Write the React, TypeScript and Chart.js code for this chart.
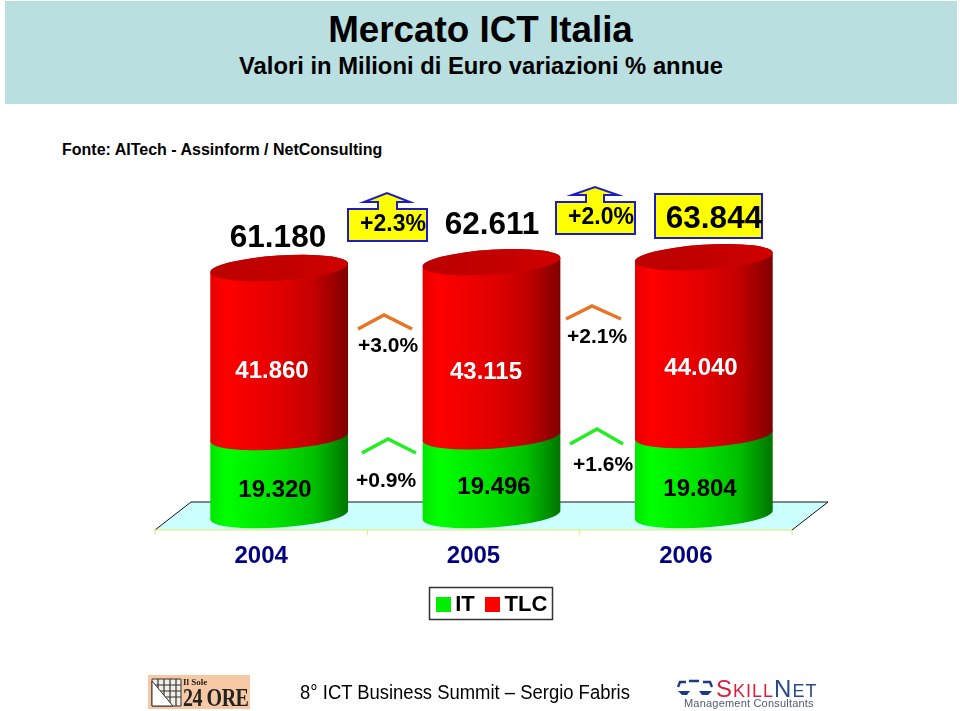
import React, { useEffect, useRef } from "react";
import { Chart, registerables } from "chart.js";

Chart.register(...registerables);

// ---- data ----
const years = ["2004", "2005", "2006"];
const itValues = [19320, 19496, 19804];
const tlcValues = [41860, 43115, 44040];
const totalValues = [61180, 62611, 63844];
const totalGrowth = [2.3, 2.0];
const tlcGrowth = [3.0, 2.1];
const itGrowth = [0.9, 1.6];

// ---- look ----
const FONT = '"Liberation Sans", Arial, sans-serif';
const RED_STOPS: [number, string][] = [[0, "#e60000"], [0.12, "#ff0000"], [0.5, "#e20000"], [0.75, "#c40000"], [1, "#800000"]];
const GREEN_STOPS: [number, string][] = [[0, "#00e600"], [0.12, "#00ff00"], [0.5, "#00e000"], [0.75, "#00c000"], [1, "#007400"]];
const TILT = (3.7 * Math.PI) / 180;
const CAP_RY = 12.5;

const totalLabelAt = [[278, 238], [492, 225], [714, 219]];
const tlcLabelAt = [[272, 371], [486, 372], [701, 368]];
const itLabelAt = [[275, 490], [494, 487], [700, 489]];
const tlcGrowthAt = [[388, 346], [597, 337]];
const itGrowthAt = [[386, 481], [603, 465]];
const orangeChevrons = [[358, 329, 384, 315, 412, 329], [566, 319, 592, 306, 621, 319]];
const greenChevrons = [[362, 453, 388, 439, 416, 453], [570, 444, 597, 429, 623, 444]];
const callouts = [
  { l: 348, r: 427, t: 209, b: 241, nl: 378, nr: 397, hl: 364, hr: 410, hy: 202, ax: 387, ay: 193, tx: 393, ty: 225 },
  { l: 556, r: 635, t: 202, b: 234, nl: 586, nr: 604, hl: 572, hr: 618, hy: 195, ax: 595, ay: 187, tx: 601, ty: 218 },
];

const fmtValue = (v: number) => String(v).replace(/(\d)(\d{3})$/, "$1.$2");
const fmtGrowth = (v: number) => `+${v.toFixed(1)}%`;

function label(ctx: CanvasRenderingContext2D, text: string, x: number, y: number, font: string, color: string) {
  ctx.font = font;
  ctx.fillStyle = color;
  ctx.textAlign = "center";
  ctx.textBaseline = "middle";
  ctx.fillText(text, x, y);
}

function gradient(ctx: CanvasRenderingContext2D, x: number, w: number, stops: [number, string][]) {
  const g = ctx.createLinearGradient(x - w / 2, 0, x + w / 2, 0);
  stops.forEach(([o, c]) => g.addColorStop(o, c));
  return g;
}

function cylinderSegment(ctx: CanvasRenderingContext2D, el: any, stops: [number, string][]) {
  const rx = el.width / 2;
  ctx.beginPath();
  ctx.ellipse(el.x, el.base, rx, CAP_RY, -TILT, Math.PI, 0, true);
  ctx.ellipse(el.x, el.y, rx, CAP_RY, -TILT, 0, -Math.PI, true);
  ctx.closePath();
  ctx.fillStyle = gradient(ctx, el.x, el.width, stops);
  ctx.fill();
}

const cylinderPlugin = {
  id: "cylinders",
  beforeDatasetsDraw(chart: any) {
    const { ctx, chartArea: a } = chart;
    // floor
    const fy = a.bottom + 15;
    const by = a.bottom - 13;
    const fl = a.left - 18;
    const fr = a.right - 18;
    ctx.save();
    ctx.beginPath();
    ctx.moveTo(fl, fy);
    ctx.lineTo(fl + 36, by);
    ctx.lineTo(fr + 36, by);
    ctx.lineTo(fr, fy);
    ctx.closePath();
    ctx.fillStyle = "#ccffff";
    ctx.fill();
    ctx.strokeStyle = "#111111";
    ctx.lineWidth = 1;
    ctx.beginPath();
    ctx.moveTo(fl, fy);
    ctx.lineTo(fl + 36, by);
    ctx.lineTo(fr + 36, by);
    ctx.lineTo(fr, fy);
    ctx.stroke();
    ctx.strokeStyle = "#e6e66a";
    ctx.beginPath();
    ctx.moveTo(fl, fy);
    ctx.lineTo(fr, fy);
    for (let i = 0; i <= years.length; i++) {
      const tx = fl + ((fr - fl) * i) / years.length;
      ctx.moveTo(tx, fy);
      ctx.lineTo(tx, fy + 5);
    }
    ctx.stroke();

    // cylinders: the stacked bar elements give the geometry
    const green = chart.getDatasetMeta(0).data;
    const red = chart.getDatasetMeta(1).data;
    green.forEach((g: any, i: number) => {
      const r = red[i];
      cylinderSegment(ctx, g, GREEN_STOPS);
      cylinderSegment(ctx, r, RED_STOPS);
      const capGrad = ctx.createLinearGradient(r.x - r.width / 2, 0, r.x + r.width / 2, 0);
      capGrad.addColorStop(0, "#bc0000");
      capGrad.addColorStop(0.6, "#c40000");
      capGrad.addColorStop(1, "#d00000");
      ctx.beginPath();
      ctx.ellipse(r.x, r.y, r.width / 2, CAP_RY, -TILT, 0, Math.PI * 2);
      ctx.fillStyle = capGrad;
      ctx.fill();
    });
    ctx.restore();
    return false;
  },
  afterDraw(chart: any) {
    const { ctx } = chart;
    ctx.save();
    // yellow callouts with up arrow
    ctx.lineWidth = 2;
    ctx.strokeStyle = "#1c1cc8";
    ctx.fillStyle = "#ffff00";
    ctx.lineJoin = "miter";
    callouts.forEach((c, i) => {
      ctx.beginPath();
      ctx.moveTo(c.l, c.t);
      ctx.lineTo(c.nl, c.t);
      ctx.lineTo(c.nl, c.hy);
      ctx.lineTo(c.hl, c.hy);
      ctx.lineTo(c.ax, c.ay);
      ctx.lineTo(c.hr, c.hy);
      ctx.lineTo(c.nr, c.hy);
      ctx.lineTo(c.nr, c.t);
      ctx.lineTo(c.r, c.t);
      ctx.lineTo(c.r, c.b);
      ctx.lineTo(c.l, c.b);
      ctx.closePath();
      ctx.fillStyle = "#ffff00";
      ctx.fill();
      ctx.stroke();
      label(ctx, fmtGrowth(totalGrowth[i]), c.tx, c.ty, `bold 23px ${FONT}`, "#000");
    });
    // highlighted total
    ctx.fillStyle = "#ffff00";
    ctx.fillRect(655, 194, 107, 44);
    ctx.strokeRect(655, 194, 107, 44);
    // chevrons
    ctx.lineWidth = 3.5;
    const chev = (p: number[], col: string) => {
      ctx.strokeStyle = col;
      ctx.beginPath();
      ctx.moveTo(p[0], p[1]);
      ctx.lineTo(p[2], p[3]);
      ctx.lineTo(p[4], p[5]);
      ctx.stroke();
    };
    orangeChevrons.forEach((p) => chev(p, "#ea7426"));
    greenChevrons.forEach((p) => chev(p, "#22ee22"));
    // value labels
    totalValues.forEach((v, i) => label(ctx, fmtValue(v), totalLabelAt[i][0], totalLabelAt[i][1], `bold 31.5px ${FONT}`, "#000"));
    tlcValues.forEach((v, i) => label(ctx, fmtValue(v), tlcLabelAt[i][0], tlcLabelAt[i][1], `bold 24px ${FONT}`, "#ffffff"));
    itValues.forEach((v, i) => label(ctx, fmtValue(v), itLabelAt[i][0], itLabelAt[i][1], `bold 24px ${FONT}`, "#000"));
    tlcGrowth.forEach((v, i) => label(ctx, fmtGrowth(v), tlcGrowthAt[i][0], tlcGrowthAt[i][1], `bold 21px ${FONT}`, "#000"));
    itGrowth.forEach((v, i) => label(ctx, fmtGrowth(v), itGrowthAt[i][0], itGrowthAt[i][1], `bold 21px ${FONT}`, "#000"));
    // legend
    ctx.strokeStyle = "#333333";
    ctx.lineWidth = 1.5;
    ctx.strokeRect(429.5, 587.5, 123, 32);
    const ds = chart.data.datasets;
    const legendX = [[436, 465], [485, 526]];
    ds.forEach((d: any, i: number) => {
      ctx.fillStyle = d.backgroundColor;
      ctx.fillRect(legendX[i][0], 597, 15, 15);
      label(ctx, d.label, legendX[i][1], 605, `bold 22px ${FONT}`, "#000");
    });
    ctx.restore();
  },
};

function T(p: { x: number; y: number; size: number; bold?: boolean; color?: string; center?: boolean; family?: string; spacing?: number; scaleX?: number; children: React.ReactNode }) {
  const base = p.center ? "translate(-50%,-50%)" : "translateY(-50%)";
  return (
    <div
      style={{
        position: "absolute",
        left: p.x,
        top: p.y,
        transform: p.scaleX ? `${base} scaleX(${p.scaleX})` : base,
        transformOrigin: p.center ? "50% 50%" : "0 50%",
        fontFamily: p.family || FONT,
        fontSize: p.size,
        fontWeight: p.bold ? 700 : 400,
        color: p.color || "#000",
        whiteSpace: "nowrap",
        lineHeight: 1,
        letterSpacing: p.spacing,
      }}
    >
      {p.children}
    </div>
  );
}

export default function App() {
  const ref = useRef<HTMLCanvasElement>(null);
  useEffect(() => {
    const chart = new Chart(ref.current as HTMLCanvasElement, {
      type: "bar",
      data: {
        labels: years,
        datasets: [
          { label: "IT", data: itValues, backgroundColor: "#00ee00" },
          { label: "TLC", data: tlcValues, backgroundColor: "#ff0000" },
        ],
      },
      plugins: [cylinderPlugin],
      options: {
        responsive: false,
        animation: false,
        layout: { padding: { left: 173, right: 150, top: 192, bottom: 136 } },
        datasets: { bar: { barPercentage: 1, categoryPercentage: 0.65 } },
        plugins: { legend: { display: false }, title: { display: false }, tooltip: { enabled: false } },
        scales: {
          x: {
            stacked: true,
            grid: { display: false, drawTicks: false },
            border: { display: false },
            afterFit: (s: any) => {
              s.height = 60;
            },
            ticks: {
              autoSkip: false,
              maxRotation: 0,
              labelOffset: -18,
              padding: 27,
              color: "#000080",
              font: { family: FONT, size: 24, weight: "bold" },
            },
          },
          y: { stacked: true, display: false, min: 0, max: 80000 },
        },
      },
    } as any);
    return () => chart.destroy();
  }, []);

  return (
    <div style={{ position: "absolute", left: 0, top: 0, width: 960, height: 711, background: "#fff", overflow: "hidden" }}>
      <div style={{ position: "absolute", left: 5, top: 1, width: 952, height: 103, background: "#b9dfe1" }} />
      <T x={480.5} y={30} size={36.8} bold center>Mercato ICT Italia</T>
      <T x={481} y={66} size={23.8} bold center>Valori in Milioni di Euro variazioni % annue</T>
      <T x={62} y={150} size={16} bold>Fonte: AITech - Assinform / NetConsulting</T>
      <canvas ref={ref} width={960} height={711} style={{ position: "absolute", left: 0, top: 0 }} />

      {/* footer */}
      <T x={300} y={692} size={20} scaleX={0.922}>8° ICT Business Summit – Sergio Fabris</T>

      {/* newspaper mark */}
      <div style={{ position: "absolute", left: 148, top: 675, width: 102, height: 34, background: "#f7c8a4" }} />
      <svg width={32} height={30} style={{ position: "absolute", left: 151, top: 678 }}>
        <path d="M1 1H30V28H1Z" fill="#f3efe8" stroke="#333" strokeWidth={1} />
        <path d="M7 1V28M13 1V28M19 1V28M25 1V28M1 7H30M1 13H30M1 19H30" stroke="#333" strokeWidth={1.2} />
        <path d="M1 3L22 28H1Z" fill="#ffffff" stroke="#333" strokeWidth={1} />
      </svg>
      <T x={183} y={682} size={9} bold family='"Liberation Serif", serif' color="#222">Il Sole</T>
      <T x={183} y={697} size={25} bold family='"Liberation Serif", serif' color="#222" spacing={-0.6} scaleX={0.8}>24 ORE</T>

      {/* consultancy mark */}
      <svg width={36} height={20} style={{ position: "absolute", left: 677, top: 679 }}>
        <path d="M9 3H3L1 8M26 3H33L35 8M12 2H22" fill="none" stroke="#1c3a8a" strokeWidth={2.4} />
        <path d="M1 12H13L10 16H5ZM22 12H35L31 16H25Z" fill="#1c3a8a" />
      </svg>
      <div style={{ position: "absolute", left: 716, top: 676, fontFamily: FONT, whiteSpace: "nowrap", lineHeight: "26px", letterSpacing: 1 }}>
        <span style={{ color: "#d81f3c", fontSize: 24 }}>S</span>
        <span style={{ color: "#d81f3c", fontSize: 18 }}>KILL</span>
        <span style={{ color: "#2a4a8c", fontSize: 24 }}>N</span>
        <span style={{ color: "#2a4a8c", fontSize: 18 }}>ET</span>
      </div>
      <T x={684} y={703} size={11} color="#505a70" spacing={0.2}>Management Consultants</T>
    </div>
  );
}
